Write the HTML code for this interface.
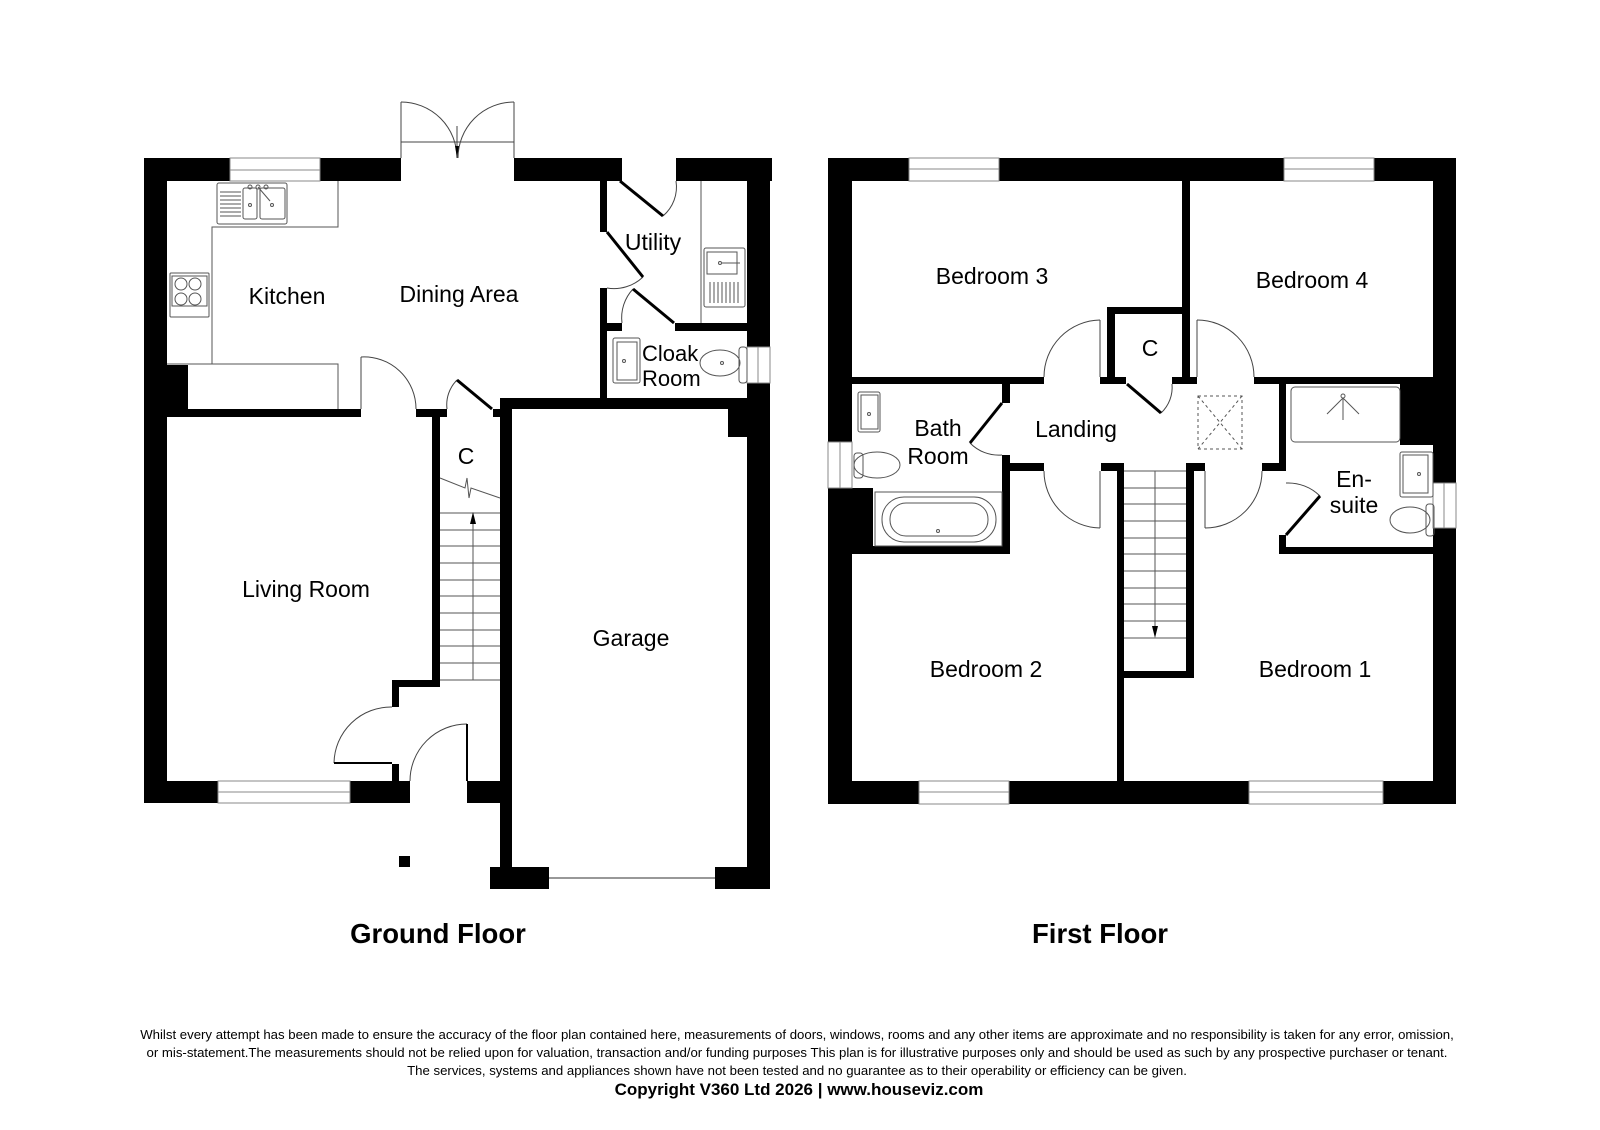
<!DOCTYPE html>
<html><head><meta charset="utf-8"><style>
html,body{margin:0;padding:0;background:#fff;}
svg{display:block;}
text{font-family:"Liberation Sans",Arial,sans-serif;fill:#000;}
.l{font-size:23px;text-anchor:middle;}
.t{stroke:#555;stroke-width:1;fill:none;}
.a{stroke:#444;stroke-width:1;fill:none;}
.d{stroke:#000;stroke-width:3;fill:none;}
.w{fill:#fff;stroke:#888;stroke-width:1;}
</style></head><body>
<svg width="1600" height="1130" viewBox="0 0 1600 1130" xmlns="http://www.w3.org/2000/svg">
<!-- ================= GROUND FLOOR ================= -->
<g fill="#000">
<rect x="144" y="158" width="86" height="23"/>
<rect x="320" y="158" width="81" height="23"/>
<rect x="514" y="158" width="108" height="23"/>
<rect x="676" y="158" width="96" height="23"/>
<rect x="144" y="158" width="23" height="645"/>
<rect x="747" y="158" width="23" height="189"/>
<rect x="747" y="383" width="23" height="506"/>
<rect x="167" y="365" width="21" height="44"/>
<rect x="144" y="409" width="217" height="8"/>
<rect x="416" y="409" width="31" height="8"/>
<rect x="493" y="409" width="19" height="8"/>
<rect x="432" y="417" width="8" height="270"/>
<rect x="392" y="680" width="48" height="7"/>
<rect x="392" y="680" width="7" height="27"/>
<rect x="392" y="764" width="7" height="17"/>
<rect x="144" y="781" width="74" height="22"/>
<rect x="350" y="781" width="60" height="22"/>
<rect x="467" y="781" width="45" height="22"/>
<rect x="500" y="398" width="270" height="11"/>
<rect x="500" y="398" width="12" height="491"/>
<rect x="490" y="867" width="59" height="22"/>
<rect x="715" y="867" width="55" height="22"/>
<rect x="728" y="409" width="19" height="28"/>
<rect x="600" y="181" width="7" height="51"/>
<rect x="600" y="288" width="7" height="110"/>
<rect x="600" y="323" width="22" height="8"/>
<rect x="675" y="323" width="72" height="8"/>
<rect x="399" y="856" width="11" height="11"/>
</g>
<g class="w">
<rect x="230" y="158" width="90" height="23"/><line x1="230" y1="170" x2="320" y2="170"/>
<rect x="218" y="781" width="132" height="22"/><line x1="218" y1="792" x2="350" y2="792"/>
<rect x="747" y="347" width="23" height="36"/><line x1="758" y1="347" x2="758" y2="383"/>
</g>
<line x1="549" y1="878" x2="715" y2="878" stroke="#777" stroke-width="1.5"/>
<g class="a">
<line x1="401" y1="102" x2="401" y2="158"/><line x1="514" y1="102" x2="514" y2="158"/>
<line x1="401" y1="142" x2="514" y2="142"/>
<path d="M401 102 A56 56 0 0 1 457 158"/>
<path d="M514 102 A56 56 0 0 0 458 158"/>
<line x1="457" y1="126" x2="457" y2="158"/>
</g>
<path d="M455 146 L457 158 L459 146Z" fill="#000"/>
<g class="t">
<polyline points="338,181 338,227 212,227 212,364 167,364"/>
<polyline points="338,409 338,364 212,364"/>
<rect x="217" y="183" width="70" height="41" rx="2"/>
<rect x="243" y="188" width="14" height="31" rx="2"/>
<rect x="260" y="188" width="25" height="31" rx="2"/>
<circle cx="250" cy="205" r="1.5"/><circle cx="272" cy="205" r="1.5"/>
<line x1="258" y1="187" x2="270" y2="201"/>
<circle cx="250" cy="187" r="2"/><circle cx="258" cy="187" r="2"/><circle cx="266" cy="187" r="2"/>
<rect x="170" y="273" width="39" height="44" rx="1"/>
<rect x="172" y="276" width="35" height="30"/>
<circle cx="181" cy="284" r="6"/><circle cx="195" cy="284" r="6"/>
<circle cx="181" cy="299" r="6"/><circle cx="195" cy="299" r="6"/>
</g>
<g stroke="#555" stroke-width="1">
<line x1="220" y1="192" x2="241" y2="192"/><line x1="220" y1="196" x2="241" y2="196"/><line x1="220" y1="200" x2="241" y2="200"/><line x1="220" y1="204" x2="241" y2="204"/><line x1="220" y1="208" x2="241" y2="208"/><line x1="220" y1="212" x2="241" y2="212"/><line x1="220" y1="216" x2="241" y2="216"/>
</g>
<g class="a">
<path d="M361 357 A52 52 0 0 1 416 409"/>
<line x1="361" y1="357" x2="361" y2="409"/>
<path d="M457 380 A35 35 0 0 0 447 409"/>
<path d="M663 216 A38 38 0 0 0 676 181"/>
<path d="M643 277 A42 42 0 0 1 607 288"/>
<path d="M633 289 A42 42 0 0 0 622 323"/>
<path d="M392 707 A57 57 0 0 0 334 763"/>
<path d="M467 724 A57 57 0 0 0 410 781"/>
</g>
<g class="d">
<line x1="457" y1="380" x2="492" y2="409"/>
<line x1="620" y1="181" x2="663" y2="216"/>
<line x1="607" y1="232" x2="643" y2="277"/>
<line x1="633" y1="289" x2="674" y2="323"/>
<line x1="334" y1="763" x2="392" y2="763" stroke-width="2"/>
<line x1="467" y1="724" x2="467" y2="781" stroke-width="2"/>
</g>
<g class="t">
<line x1="440" y1="513" x2="500" y2="513"/><line x1="440" y1="530" x2="500" y2="530"/><line x1="440" y1="546" x2="500" y2="546"/><line x1="440" y1="563" x2="500" y2="563"/><line x1="440" y1="580" x2="500" y2="580"/><line x1="440" y1="596" x2="500" y2="596"/><line x1="440" y1="613" x2="500" y2="613"/><line x1="440" y1="630" x2="500" y2="630"/><line x1="440" y1="646" x2="500" y2="646"/><line x1="440" y1="663" x2="500" y2="663"/><line x1="440" y1="680" x2="500" y2="680"/>
<line x1="473" y1="520" x2="473" y2="680"/>
<polyline points="440,478 465,488 467,478 469,498 471,488 500,498"/>
</g>
<path d="M470 524 L473 512 L476 524Z" fill="#000"/>
<g class="t">
<line x1="701" y1="181" x2="701" y2="323"/>
<rect x="704" y="248" width="41" height="59" rx="2"/>
<rect x="707" y="252" width="30" height="22"/>
<circle cx="720" cy="263" r="1.5"/><line x1="722" y1="263" x2="740" y2="263"/>
<rect x="613" y="338" width="27" height="45" rx="2"/>
<rect x="617" y="342" width="20" height="38"/>
<circle cx="624" cy="361" r="1.5"/>
<ellipse cx="720" cy="363" rx="20" ry="13"/>
<rect x="739" y="347" width="8" height="36" rx="3"/>
<circle cx="722" cy="363" r="1.5"/>
</g>
<g stroke="#555" stroke-width="1">
<line x1="710" y1="282" x2="710" y2="303"/><line x1="714" y1="282" x2="714" y2="303"/><line x1="718" y1="282" x2="718" y2="303"/><line x1="722" y1="282" x2="722" y2="303"/><line x1="726" y1="282" x2="726" y2="303"/><line x1="730" y1="282" x2="730" y2="303"/><line x1="734" y1="282" x2="734" y2="303"/><line x1="738" y1="282" x2="738" y2="303"/>
</g>
<text class="l" x="287" y="304">Kitchen</text>
<text class="l" x="459" y="302">Dining Area</text>
<text class="l" x="653" y="250">Utility</text>
<text x="642" y="361" style="font-size:22px">Cloak</text>
<text x="642" y="386" style="font-size:22px">Room</text>
<text class="l" x="466" y="464">C</text>
<text class="l" x="306" y="597">Living Room</text>
<text class="l" x="631" y="646">Garage</text>

<!-- ================= FIRST FLOOR ================= -->
<g fill="#000">
<rect x="828" y="158" width="81" height="23"/>
<rect x="999" y="158" width="285" height="23"/>
<rect x="1374" y="158" width="82" height="23"/>
<rect x="828" y="158" width="24" height="284"/>
<rect x="828" y="488" width="45" height="64"/>
<rect x="828" y="488" width="24" height="316"/>
<rect x="1433" y="158" width="23" height="325"/>
<rect x="1433" y="528" width="23" height="276"/>
<rect x="828" y="781" width="91" height="23"/>
<rect x="1009" y="781" width="240" height="23"/>
<rect x="1383" y="781" width="73" height="23"/>
<rect x="1182" y="181" width="8" height="203"/>
<rect x="1107" y="307" width="83" height="7"/>
<rect x="1107" y="307" width="8" height="77"/>
<rect x="852" y="377" width="192" height="7"/>
<rect x="1100" y="377" width="26" height="7"/>
<rect x="1172" y="377" width="25" height="7"/>
<rect x="1254" y="377" width="179" height="7"/>
<rect x="1400" y="377" width="35" height="68"/>
<rect x="1002" y="384" width="8" height="19"/>
<rect x="1002" y="455" width="8" height="99"/>
<rect x="852" y="546" width="158" height="8"/>
<rect x="1002" y="463" width="42" height="8"/>
<rect x="1101" y="463" width="23" height="8"/>
<rect x="1186" y="463" width="19" height="8"/>
<rect x="1262" y="463" width="24" height="8"/>
<rect x="1117" y="463" width="7" height="318"/>
<rect x="1186" y="463" width="8" height="215"/>
<rect x="1117" y="671" width="77" height="7"/>
<rect x="1279" y="384" width="7" height="87"/>
<rect x="1279" y="535" width="7" height="19"/>
<rect x="1279" y="547" width="177" height="7"/>
</g>
<g class="w">
<rect x="909" y="158" width="90" height="23"/><line x1="909" y1="169" x2="999" y2="169"/>
<rect x="1284" y="158" width="90" height="23"/><line x1="1284" y1="169" x2="1374" y2="169"/>
<rect x="919" y="781" width="90" height="23"/><line x1="919" y1="792" x2="1009" y2="792"/>
<rect x="1249" y="781" width="134" height="23"/><line x1="1249" y1="792" x2="1383" y2="792"/>
<rect x="828" y="442" width="24" height="46"/><line x1="840" y1="442" x2="840" y2="488"/>
<rect x="1433" y="483" width="23" height="45"/><line x1="1444" y1="483" x2="1444" y2="528"/>
</g>
<g class="a">
<line x1="1100" y1="320" x2="1100" y2="377"/>
<path d="M1100 320 A57 57 0 0 0 1044 377"/>
<line x1="1100" y1="471" x2="1100" y2="528"/>
<path d="M1044 471 A57 57 0 0 0 1100 528"/>
<line x1="1197" y1="320" x2="1197" y2="377"/>
<path d="M1197 320 A57 57 0 0 1 1254 377"/>
<line x1="1205" y1="471" x2="1205" y2="528"/>
<path d="M1262 471 A57 57 0 0 1 1205 528"/>
<path d="M1161 413 A35 35 0 0 0 1172 384"/>
<path d="M970 443 A40 40 0 0 0 1002 455"/>
<path d="M1286 483 A45 45 0 0 1 1320 496"/>
</g>
<g class="d">
<line x1="1127" y1="384" x2="1161" y2="413"/>
<line x1="1002" y1="403" x2="970" y2="443"/>
<line x1="1286" y1="535" x2="1320" y2="496"/>
</g>
<rect x="1198" y="396" width="44" height="53" fill="none" stroke="#555" stroke-dasharray="3,3"/>
<line x1="1198" y1="396" x2="1242" y2="449" stroke="#555" stroke-dasharray="3,3"/>
<line x1="1242" y1="396" x2="1198" y2="449" stroke="#555" stroke-dasharray="3,3"/>
<g class="t">
<line x1="1124" y1="471" x2="1186" y2="471"/><line x1="1124" y1="488" x2="1186" y2="488"/><line x1="1124" y1="504" x2="1186" y2="504"/><line x1="1124" y1="521" x2="1186" y2="521"/><line x1="1124" y1="538" x2="1186" y2="538"/><line x1="1124" y1="554" x2="1186" y2="554"/><line x1="1124" y1="571" x2="1186" y2="571"/><line x1="1124" y1="588" x2="1186" y2="588"/><line x1="1124" y1="604" x2="1186" y2="604"/><line x1="1124" y1="621" x2="1186" y2="621"/><line x1="1124" y1="638" x2="1186" y2="638"/>
<line x1="1155" y1="471" x2="1155" y2="628"/>
</g>
<path d="M1152 626 L1155 638 L1158 626Z" fill="#000"/>
<g class="t">
<rect x="858" y="392" width="22" height="40" rx="2"/>
<rect x="861" y="395" width="17" height="34"/>
<circle cx="869" cy="414" r="1.5"/>
<ellipse cx="877" cy="465" rx="23" ry="13"/>
<rect x="854" y="453" width="9" height="25" rx="3"/>
<rect x="875" y="492" width="127" height="54"/>
<rect x="882" y="497" width="114" height="45" rx="22"/>
<rect x="890" y="503" width="98" height="33" rx="16"/>
<circle cx="938" cy="531" r="1.5"/>
<rect x="1291" y="387" width="109" height="55" rx="4"/>
<circle cx="1343" cy="396" r="2"/>
<line x1="1343" y1="398" x2="1343" y2="420"/>
<line x1="1343" y1="398" x2="1327" y2="414"/>
<line x1="1343" y1="398" x2="1359" y2="414"/>
<rect x="1400" y="452" width="33" height="45" rx="2"/>
<rect x="1403" y="455" width="25" height="38"/>
<circle cx="1419" cy="474" r="1.5"/>
<ellipse cx="1410" cy="520" rx="20" ry="13"/>
<rect x="1426" y="504" width="8" height="32" rx="3"/>
</g>
<text class="l" x="992" y="284">Bedroom 3</text>
<text class="l" x="1312" y="288">Bedroom 4</text>
<text class="l" x="1150" y="356">C</text>
<text class="l" x="938" y="436">Bath</text>
<text class="l" x="938" y="464">Room</text>
<text class="l" x="1076" y="437">Landing</text>
<text class="l" x="1354" y="487">En-</text>
<text class="l" x="1354" y="513">suite</text>
<text class="l" x="986" y="677">Bedroom 2</text>
<text class="l" x="1315" y="677">Bedroom 1</text>

<text x="438" y="943" style="font-size:27.5px;font-weight:bold;text-anchor:middle">Ground Floor</text>
<text x="1100" y="943" style="font-size:27.5px;font-weight:bold;text-anchor:middle">First Floor</text>
<g style="font-size:13.2px;text-anchor:middle">
<text x="797" y="1039">Whilst every attempt has been made to ensure the accuracy of the floor plan contained here, measurements of doors, windows, rooms and any other items are approximate and no responsibility is taken for any error, omission,</text>
<text x="797" y="1057">or mis-statement.The measurements should not be relied upon for valuation, transaction and/or funding purposes This plan is for illustrative purposes only and should be used as such by any prospective purchaser or tenant.</text>
<text x="797" y="1075">The services, systems and appliances shown have not been tested and no guarantee as to their operability or efficiency can be given.</text>
</g>
<text x="799" y="1095" style="font-size:17px;font-weight:bold;text-anchor:middle">Copyright V360 Ltd 2026 | www.houseviz.com</text>
</svg>
</body></html>
